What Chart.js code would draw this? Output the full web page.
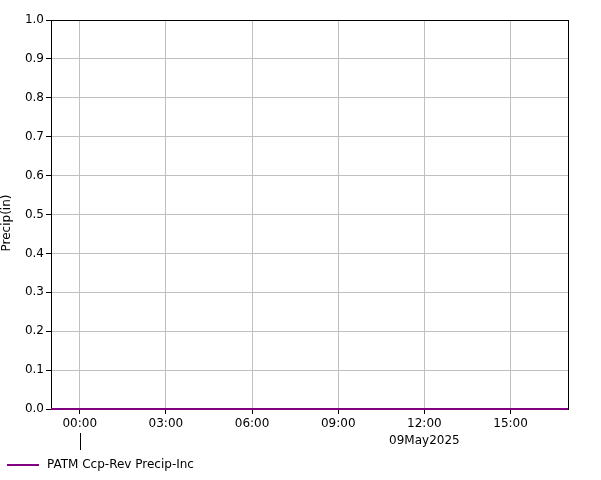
<!DOCTYPE html>
<html>
<head>
<meta charset="utf-8">
<script src="https://cdn.jsdelivr.net/npm/chart.js@4.4.0/dist/chart.umd.min.js"></script>
<style>
  html, body { margin: 0; padding: 0; background: #fff; }
  #wrap { width: 601px; height: 480px; }
</style>
</head>
<body>
<div id="wrap"><canvas id="precipChart" width="601" height="480"></canvas></div>
<script>
// hours relative to 09May2025 00:00
const hours = [-1, 0, 1, 2, 3, 4, 5, 6, 7, 8, 9, 10, 11, 12, 13, 14, 15, 16, 17];
const precipInc = [0, 0, 0, 0, 0, 0, 0, 0, 0, 0, 0, 0, 0, 0, 0, 0, 0, 0, 0];
const xTickHours = [0, 3, 6, 9, 12, 15];
const xTickLabels = ["00:00", "03:00", "06:00", "09:00", "12:00", "15:00"];
const yTicks = [0, 0.1, 0.2, 0.3, 0.4, 0.5, 0.6, 0.7, 0.8, 0.9, 1.0];
const dateLabel = "09May2025";
const seriesName = "PATM Ccp-Rev Precip-Inc";
const seriesColor = "#800080";

const FONT = "DejaVu Sans";

// box, y title, date row and legend
const extras = {
    id: "extras",
    beforeDatasetsDraw(chart) {
        const { ctx, chartArea: a } = chart;
        ctx.save();
        ctx.strokeStyle = "#000";
        ctx.lineWidth = 1;
        ctx.strokeRect(a.left + 0.5, a.top + 0.5, a.right - a.left, a.bottom - a.top);
        ctx.restore();
    },
    afterDraw(chart) {
        const { ctx } = chart;
        const x = chart.scales.x;
        ctx.save();
        ctx.fillStyle = "#000";
        ctx.font = "12px '" + FONT + "'";

        // y axis title
        ctx.save();
        ctx.translate(7, 223);
        ctx.rotate(-Math.PI / 2);
        ctx.textAlign = "center";
        ctx.textBaseline = "middle";
        ctx.fillText("Precip(in)", 0, 0);
        ctx.restore();

        // day marker and date
        const x0 = Math.round(x.getPixelForValue(0)) + 0.5;
        ctx.strokeStyle = "#000";
        ctx.lineWidth = 1;
        ctx.beginPath();
        ctx.moveTo(x0, 433);
        ctx.lineTo(x0, 450);
        ctx.stroke();
        ctx.textAlign = "center";
        ctx.textBaseline = "middle";
        ctx.fillText(dateLabel, x.getPixelForValue(12), 441);

        // legend
        ctx.strokeStyle = seriesColor;
        ctx.lineWidth = 2;
        ctx.beginPath();
        ctx.moveTo(7, 465);
        ctx.lineTo(39, 465);
        ctx.stroke();
        ctx.textAlign = "left";
        ctx.fillText(seriesName, 47, 465);
        ctx.restore();
    }
};

const ctx = document.getElementById("precipChart").getContext("2d");
new Chart(ctx, {
    type: "line",
    data: {
        datasets: [{
            label: seriesName,
            data: hours.map((h, i) => ({ x: h, y: precipInc[i] })),
            borderColor: seriesColor,
            borderWidth: 2,
            pointRadius: 0,
            fill: false,
            clip: false
        }]
    },
    options: {
        responsive: false,
        devicePixelRatio: 1,
        animation: false,
        layout: { padding: { top: 20, right: 33, left: 0, bottom: 0 } },
        plugins: {
            legend: { display: false },
            tooltip: { enabled: false }
        },
        scales: {
            x: {
                type: "linear",
                min: -1,
                max: 17,
                afterBuildTicks: s => { s.ticks = xTickHours.map(v => ({ value: v })); },
                afterFit: s => { s.height = 71; },
                ticks: {
                    autoSkip: false,
                    maxRotation: 0,
                    padding: 3,
                    color: "#000",
                    font: { family: FONT, size: 12 },
                    callback: v => xTickLabels[xTickHours.indexOf(v)]
                },
                grid: { color: "#c0c0c0", tickColor: "#000", tickLength: 5 },
                border: { color: "#000", width: 1 }
            },
            y: {
                min: 0,
                max: 1,
                afterBuildTicks: s => { s.ticks = yTicks.map(v => ({ value: v })); },
                afterFit: s => { s.width = 51; },
                ticks: {
                    padding: 2,
                    color: "#000",
                    font: { family: FONT, size: 12 },
                    callback: v => Number(v).toFixed(1)
                },
                grid: { color: "#c0c0c0", tickColor: "#000", tickLength: 5 },
                border: { color: "#000", width: 1 }
            }
        }
    },
    plugins: [extras]
});
</script>
</body>
</html>
